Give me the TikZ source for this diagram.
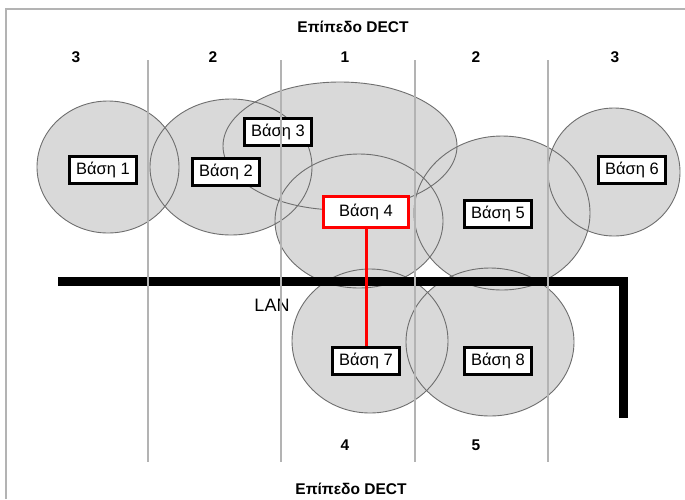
\documentclass[tikz,border=0pt]{standalone}
\usepackage{fontspec}
\setmainfont{Liberation Sans}
\definecolor{zonefill}{HTML}{D9D9D9}
\definecolor{rimgray}{HTML}{6E6E6E}
\definecolor{linegray}{HTML}{B3B3B3}
\definecolor{basered}{HTML}{FF0000}

\begin{document}
\begin{tikzpicture}[x=1pt,y=-1pt,
    zone/.style={fill=zonefill},
    rim/.style={draw=rimgray,line width=0.9pt},
    gridline/.style={draw=linegray,line width=1.4pt},
    base/.style={draw=black,line width=3.4pt,fill=white,minimum width=67pt,
      minimum height=27pt,inner sep=0pt,font=\fontsize{16.5}{18}\selectfont},
    master/.style={base,draw=basered,minimum width=85pt,minimum height=31pt},
    level/.style={font=\bfseries\fontsize{15.5}{18}\selectfont}]
  \useasboundingbox (0,0) rectangle (685,499);
  \draw[draw=linegray,line width=2pt] (6,499) -- (6,9) -- (685,9);

  \foreach \cx/\cy/\rx/\ry in {108/167/71/66,231/167/81/68,340/146/117/64,
      359/221/84/67,502/213/88/77,614/172/66/64,370/341/78/72,490/342/84/74}
    \fill[zone] (\cx,\cy) ellipse [x radius=\rx,y radius=\ry];
  \foreach \cx/\cy/\rx/\ry in {108/167/71/66,231/167/81/68,340/146/117/64,
      359/221/84/67,502/213/88/77,614/172/66/64,370/341/78/72,490/342/84/74}
    \draw[rim] (\cx,\cy) ellipse [x radius=\rx,y radius=\ry];

  \node[level] (title-top) at (353,27) {Επίπεδο DECT};
  \node[level] (title-bottom) at (351,489) {Επίπεδο DECT};
  \foreach \nx/\nl in {76/3,213/2,345/1,476/2,615/3}
    \node[level] (zone-\nx) at (\nx,57) {\nl};
  \foreach \nx/\nl in {345/4,476/5}
    \node[level] (zone-low-\nx) at (\nx,445) {\nl};

  \draw[line width=9pt] (58,281.5) -- (623.5,281.5) -- (623.5,418);
  \node[font=\fontsize{18}{20}\selectfont] (lan) at (272,305) {LAN};

  \node[base] (b1) at (103,170) {Βάση 1};
  \node[base] (b2) at (226,172) {Βάση 2};
  \node[base] (b3) at (278,132) {Βάση 3};
  \node[master] (b4) at (366,212) {Βάση 4};
  \node[base] (b5) at (498,214) {Βάση 5};
  \node[base] (b6) at (632,170) {Βάση 6};
  \node[base] (b7) at (366,361) {Βάση 7};
  \node[base] (b8) at (498,361) {Βάση 8};
  \draw[basered,line width=3pt] (b4.south) -- (b7.north);

  \foreach \gx in {148,281,415,548}
    \draw[gridline] (\gx,60) -- (\gx,462);
\end{tikzpicture}
\end{document}
